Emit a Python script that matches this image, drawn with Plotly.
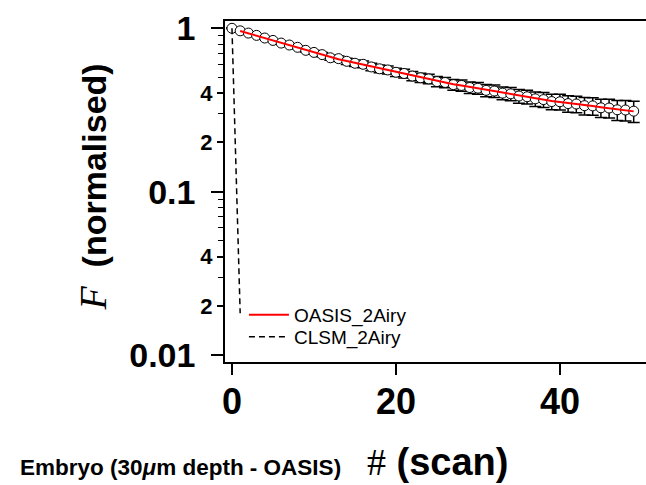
import plotly.graph_objects as go

# ---------------- data ----------------
scan = list(range(50))
oasis_data = [1.000, 0.965, 0.935, 0.905, 0.872, 0.843, 0.812, 0.790, 0.765, 0.733,
              0.712, 0.690, 0.660, 0.652, 0.628, 0.611, 0.602, 0.580, 0.565, 0.556,
              0.538, 0.529, 0.510, 0.498, 0.490, 0.472, 0.466, 0.452, 0.447, 0.434,
              0.430, 0.417, 0.413, 0.401, 0.397, 0.385, 0.381, 0.370, 0.366, 0.356,
              0.355, 0.346, 0.344, 0.336, 0.335, 0.326, 0.325, 0.317, 0.316, 0.311]
oasis_err = [0.004, 0.005, 0.006, 0.007, 0.008, 0.009, 0.011, 0.013, 0.015, 0.017,
             0.019, 0.021, 0.023, 0.025, 0.027, 0.028, 0.029, 0.030, 0.031, 0.031,
             0.032, 0.032, 0.033, 0.033, 0.033, 0.034, 0.034, 0.034, 0.035, 0.035,
             0.035, 0.036, 0.036, 0.036, 0.037, 0.037, 0.037, 0.038, 0.038, 0.039,
             0.039, 0.040, 0.040, 0.041, 0.041, 0.042, 0.043, 0.044, 0.045, 0.046]
fit_scan = list(range(1, 50))
oasis_fit = [0.963, 0.931, 0.900, 0.870, 0.841, 0.813, 0.787, 0.760, 0.735, 0.711,
             0.687, 0.664, 0.646, 0.630, 0.614, 0.598, 0.583, 0.568, 0.554, 0.540,
             0.526, 0.513, 0.500, 0.487, 0.475, 0.464, 0.455, 0.446, 0.437, 0.428,
             0.420, 0.411, 0.403, 0.395, 0.387, 0.380, 0.372, 0.365, 0.359, 0.354,
             0.348, 0.343, 0.338, 0.334, 0.329, 0.324, 0.319, 0.315, 0.310]
clsm_scan = [0, 1]
clsm_fit = [1.0, 0.018]

x_ticks = [0, 20, 40]
y_major = [1, 0.1, 0.01]
y_major_text = ["1", "0.1", "0.01"]
y_mid = [0.4, 0.2, 0.04, 0.02]
y_mid_text = ["4", "2", "4", "2"]
y_minor = [0.9, 0.8, 0.7, 0.6, 0.5, 0.3, 0.09, 0.08, 0.07, 0.06, 0.05, 0.03]

SANS = "Liberation Sans, Arial, Helvetica, sans-serif"

fig = go.Figure()
fig.add_trace(go.Scatter(
    x=scan, y=oasis_data, mode="markers", showlegend=False,
    marker=dict(symbol="circle", size=10, color="white",
                line=dict(color="black", width=1)),
    error_y=dict(type="data", array=oasis_err, color="black",
                 thickness=1.5, width=6),
))
fig.add_trace(go.Scatter(
    x=fit_scan, y=oasis_fit, mode="lines", name="OASIS_2Airy", legend="legend",
    line=dict(color="red", width=2),
))
fig.add_trace(go.Scatter(
    x=clsm_scan, y=clsm_fit, mode="lines", name="CLSM_2Airy", yaxis="y2",
    legend="legend2", line=dict(color="black", width=1.5, dash="6px,4px"),
))

yr = [-2.043, 0.0447]
leg_common = dict(xanchor="left", yanchor="middle", bgcolor="rgba(0,0,0,0)",
                  font=dict(family=SANS, size=19), itemwidth=40)
fig.update_layout(
    width=646, height=485,
    margin=dict(l=225, r=0, t=21, b=123),
    paper_bgcolor="white", plot_bgcolor="white",
    font=dict(family=SANS, color="black"),
    xaxis=dict(
        range=[-0.85, 50.5], tickvals=x_ticks, ticks="outside", ticklen=11,
        tickwidth=1.5, tickcolor="black", showline=True, linewidth=1.5,
        linecolor="black", mirror=True, showgrid=False, zeroline=False,
        tickfont=dict(family=SANS, size=36, weight="bold"),
        ticklabelstandoff=-4,
    ),
    yaxis=dict(
        type="log", range=yr, tickvals=y_major, ticktext=y_major_text,
        ticks="outside", ticklen=12, tickwidth=1.5, tickcolor="black",
        showline=True, linewidth=1.5, linecolor="black", showgrid=False,
        zeroline=False, tickfont=dict(family=SANS, size=34, weight="bold"),
        ticklabelstandoff=9,
    ),
    yaxis2=dict(
        type="log", range=yr, overlaying="y", side="left", anchor="x",
        tickvals=y_mid, ticktext=y_mid_text, ticks="outside", ticklen=7,
        tickwidth=1.5, tickcolor="black", showline=False, showgrid=False,
        zeroline=False, tickfont=dict(family=SANS, size=22, weight="bold"),
        minor=dict(tickmode="array", tickvals=y_minor, ticks="outside",
                   ticklen=6, tickwidth=1.2, tickcolor="black", showgrid=False),
    ),
    legend=dict(x=0.045, y=(362 - 315) / 341, **leg_common),
    legend2=dict(x=0.045, y=(362 - 337) / 341, **leg_common),
    annotations=[
        dict(text="<span style=\"font-family:Liberation Serif;font-size:38px\"><i>F</i></span>  <b>(normalised)</b>",
             xref="paper", yref="paper", x=(92 - 225) / 421, y=(362 - 187.5) / 341,
             xanchor="center", yanchor="middle", textangle=-90, showarrow=False,
             font=dict(family=SANS, size=34)),
        dict(text="<span style=\"font-family:Liberation Serif\">#</span> <b>(scan)</b>",
             xref="paper", yref="paper", x=(437.5 - 225) / 421, y=(362 - 462) / 341,
             xanchor="center", yanchor="middle", showarrow=False,
             font=dict(family=SANS, size=38)),
        dict(text="<b>Embryo (30<i>μ</i>m depth - OASIS)</b>",
             xref="paper", yref="paper", x=(18 - 225) / 421, y=(362 - 467) / 341,
             xanchor="left", yanchor="middle", showarrow=False,
             font=dict(family=SANS, size=22.5)),
    ],
)

fig.write_html("out.html")
